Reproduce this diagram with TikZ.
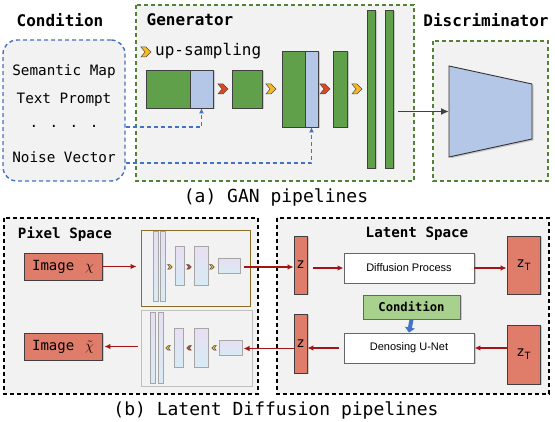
\documentclass[tikz,border=0pt]{standalone}
\usepackage{fontspec}
\newfontfamily\monof{DejaVu Sans Mono}
\newfontfamily\arialf{Liberation Sans}
\usetikzlibrary{arrows.meta,shadows}

\definecolor{boxgray}{RGB}{242,242,242}
\definecolor{gblock}{RGB}{96,160,74}
\definecolor{lblue}{RGB}{180,199,231}
\definecolor{dgreen}{RGB}{84,130,53}
\definecolor{cblue}{RGB}{68,114,196}
\definecolor{salmon}{RGB}{224,124,106}
\definecolor{darkred}{RGB}{165,20,20}
\definecolor{chevred}{RGB}{222,72,30}
\definecolor{chevyel}{RGB}{246,186,40}
\definecolor{encbrown}{RGB}{140,110,40}
\definecolor{cndgreen}{RGB}{169,209,142}
\definecolor{lav}{RGB}{232,222,242}
\definecolor{lcyan}{RGB}{214,236,244}

\tikzset{
  panel/.style={draw, fill=boxgray, line width=1.1pt, dash pattern=on 4pt off 3pt},
  shad/.style={drop shadow={shadow xshift=1.5pt, shadow yshift=-1.5pt, opacity=0.35}},
  blk/.style={draw=black!75, fill=gblock, inner sep=0pt, line width=0.7pt, shad},
  bblk/.style={blk, fill=lblue},
  sblk/.style={draw=black!35, top color=lav, bottom color=lcyan, inner sep=0pt, line width=1pt},
  zbox/.style={draw=black!75, fill=salmon, inner sep=0pt, line width=0.7pt, shad},
  wbox/.style={draw=black!60, fill=white, inner sep=0pt, line width=0.9pt, shad,
    minimum width=130, minimum height=30, font=\arialf\fontsize{11}{13}\selectfont},
  head/.style={font=\monof\bfseries\fontsize{16}{18}\selectfont},
  subhead/.style={font=\monof\bfseries\fontsize{14.2}{16}\selectfont},
  item/.style={font=\monof\fontsize{14.3}{16}\selectfont},
  capt/.style={font=\monof\fontsize{18}{20}\selectfont},
  rarrow/.style={draw=darkred, line width=1.4pt, -{Latex[length=6pt,width=5.5pt]}},
  dline/.style={cblue, line width=1.3pt, dash pattern=on 4pt off 3pt, -{Latex[length=5pt,width=5pt]}},
  chev/.pic={\filldraw[line width=0.5pt, draw=black!70, pic actions]
    (-5,-5) -- (0,-5) -- (5,0) -- (0,5) -- (-5,5) -- (-1,0) -- cycle;}
}

\begin{document}
\begin{tikzpicture}[x=1pt,y=-1pt]
    \useasboundingbox (0,0) rectangle (555,422);

    \node[panel, draw=cblue, line width=1.4pt, rounded corners=14pt, minimum width=122, minimum height=141] (cond) at (64,110.5) {};
    \draw[panel, draw=dgreen] (136,5) rectangle (414,181);
    \draw[panel, draw=dgreen] (433,41) rectangle (548,181);

    \node[head] (condt) at (60,20) {Condition};
    \node[head] (gent) at (190,20) {Generator};
    \node[head] (disct) at (486,20) {Discriminator};

    \node[item] (sem) at (64,72) {Semantic Map};
    \node[item] (txt) at (64,100) {Text Prompt};
    \node[item] (dots) at (64,126) {. . . .};
    \node[item] (noise) at (64,157) {Noise Vector};

    \pic[fill=chevyel] at (146,52) {chev};
    \node[font=\monof\fontsize{16}{18}\selectfont, anchor=west, inner sep=0pt] (ups) at (155,51) {up-sampling};

    \node[blk, minimum width=44, minimum height=38] (b1g) at (168,89) {};
    \node[bblk, minimum width=23, minimum height=38] (b1b) at (201.5,89) {};
    \pic[fill=chevred] at (223,89) {chev};
    \node[blk, minimum width=30, minimum height=38] (b2) at (247,89) {};
    \pic[fill=chevyel] at (271,89) {chev};
    \node[blk, minimum width=23, minimum height=76] (b3g) at (293.5,89) {};
    \node[bblk, minimum width=13, minimum height=76] (b3b) at (311.5,89) {};
    \pic[fill=chevred] at (325,89) {chev};
    \node[blk, minimum width=14, minimum height=76] (b4) at (340,89) {};
    \pic[fill=chevyel] at (357,89) {chev};
    \node[blk, minimum width=8, minimum height=158] (b5) at (371,89) {};
    \node[blk, minimum width=8, minimum height=158] (b6) at (389,89) {};

    \draw[dline] ([yshift=-16.5pt]cond.east) -| (b1b.south);
    \draw[dline] ([yshift=-52.5pt]cond.east) -| (b3b.south);

    \draw[fill=lblue, draw=black!80, line width=0.9pt, shad] (449,66) -- (532,84) -- (532,139) -- (449,157) -- cycle;
    \coordinate (disc) at (449,111.5);
    \draw[black!75, line width=1.6pt, shorten <=5pt, -{Latex[length=8pt,width=7pt]}] ([yshift=-22.5pt]b6.east) -- (disc);

    \node[capt] (capa) at (276,197) {(a) GAN pipelines};

    \draw[panel, draw=black] (4,218) rectangle (258,394);
    \draw[panel, draw=black] (277,218) rectangle (549,394);
    \node[subhead] (pixt) at (65,234) {Pixel Space};
    \node[subhead] (latt) at (417,234) {Latent Space};

    \node[zbox, minimum width=78, minimum height=27, font=\monof\fontsize{14}{16}\selectfont] (img1) at (63,266.5) {Image\, $\chi$};
    \node[zbox, minimum width=78, minimum height=27, font=\monof\fontsize{14}{16}\selectfont] (img2) at (63,346.5) {Image\, $\tilde{\chi}$};

    \node[draw=encbrown, fill=boxgray, line width=0.8pt, minimum width=109, minimum height=76, inner sep=0pt] (enc) at (195.5,268) {};
    \node[draw=black!25, fill=boxgray, line width=0.9pt, minimum width=111, minimum height=76, inner sep=0pt] (dec) at (196.5,348.5) {};

    \node[sblk, minimum width=5, minimum height=70] (e1) at (155.5,267) {};
    \node[sblk, minimum width=5, minimum height=70] (e2) at (162.5,267) {};
    \pic[fill=chevyel, scale=0.45] at (170,267) {chev};
    \node[sblk, minimum width=9, minimum height=39] (e3) at (179.5,266.5) {};
    \pic[fill=chevred, scale=0.45] at (189,267) {chev};
    \node[sblk, minimum width=14, minimum height=39] (e4) at (201,266.5) {};
    \pic[fill=chevyel, scale=0.45] at (212,267) {chev};
    \node[sblk, minimum width=22, minimum height=15] (e5) at (229,266) {};

    \node[sblk, minimum width=5, minimum height=71] (d1) at (152.5,348.5) {};
    \node[sblk, minimum width=5, minimum height=71] (d2) at (160.5,348.5) {};
    \pic[fill=chevyel, xscale=-0.45, yscale=0.45] at (168,348) {chev};
    \node[sblk, minimum width=9, minimum height=39] (d3) at (178.5,348.5) {};
    \pic[fill=chevred, xscale=-0.45, yscale=0.45] at (189,348) {chev};
    \node[sblk, minimum width=14, minimum height=39] (d4) at (201,348.5) {};
    \pic[fill=chevyel, xscale=-0.45, yscale=0.45] at (214,348) {chev};
    \node[sblk, minimum width=23, minimum height=15] (d5) at (230.5,348.5) {};

    \node[zbox, minimum width=13, minimum height=58, font=\monof\fontsize{14}{16}\selectfont] (z1) at (300.5,265) {z};
    \node[zbox, minimum width=13, minimum height=59, font=\monof\fontsize{14}{16}\selectfont] (z2) at (300.5,343.5) {z};
    \node[zbox, minimum width=33, minimum height=58, font=\monof\fontsize{14}{16}\selectfont] (zt1) at (523.5,265) {z\raisebox{-3pt}{\fontsize{10}{12}\selectfont T}};
    \node[zbox, minimum width=33, minimum height=59, font=\monof\fontsize{14}{16}\selectfont] (zt2) at (523.5,354.5) {z\raisebox{-3pt}{\fontsize{10}{12}\selectfont T}};

    \node[wbox] (diff) at (409,268) {Diffusion Process};
    \node[wbox] (den) at (409,348) {Denosing U-Net};
    \node[draw=black!60, fill=cndgreen, line width=0.9pt, minimum width=97, minimum height=24, inner sep=0pt, shad,
        font=\monof\bfseries\fontsize{12.2}{14}\selectfont] (cnd) at (411.5,307) {Condition};
    \draw[cblue, line width=4pt, -{Triangle[length=5pt,width=10pt]}] (cnd.south) -- (den.north);

    \draw[rarrow, shorten >=4pt] (img1.east) -- (img1.east -| enc.west);
    \draw[rarrow, shorten <=3pt] (e5.east |- 0,267) -- (z1.west |- 0,267);
    \draw[rarrow, shorten <=6pt] (z1.east |- diff.west) -- (diff.west);
    \draw[rarrow] (diff.east) -- (diff.east -| zt1.west);
    \draw[rarrow] (den.east -| zt2.west) -- (den.east);
    \draw[rarrow, shorten <=5pt] (den.west) -- (den.west -| z2.east);
    \draw[rarrow, shorten >=1pt] (z2.west |- d5.east) -- (d5.east);
    \draw[rarrow, shorten <=3pt, shorten >=2pt] (dec.west |- img2.east) -- (img2.east);

    \node[capt] (capb) at (276,410) {(b) Latent Diffusion pipelines};
\end{tikzpicture}
\end{document}
